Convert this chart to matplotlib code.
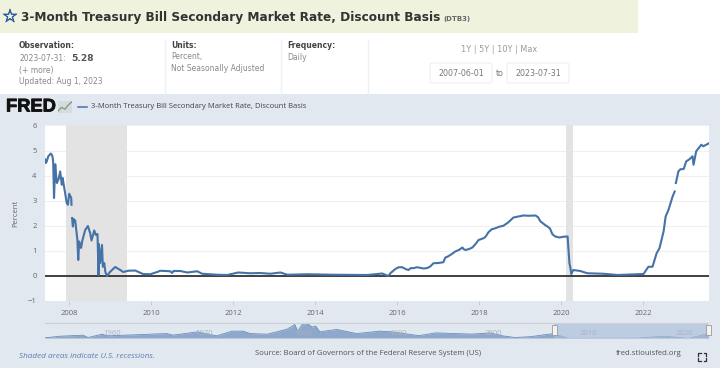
import numpy as np
import matplotlib
matplotlib.use('Agg')
import matplotlib.pyplot as plt
import matplotlib.patheffects as pe
from matplotlib.patches import Rectangle, FancyBboxPatch
from matplotlib.lines import Line2D

W, H = 720, 368

# main series, decimal year / percent (nan = gap in the data)
years = [2007.41, 2007.43, 2007.45, 2007.49, 2007.52, 2007.55, 2007.585, 2007.60, 2007.61, 2007.63, 2007.66, 2007.68, 2007.70, 2007.74,
         2007.78, 2007.82, 2007.84, 2007.90, 2007.94, 2007.97, 2008.00, 2008.05, 2008.056, 2008.06,
         2008.07, 2008.09, 2008.105, 2008.146, 2008.20, 2008.22, 2008.244, 2008.29, 2008.32, 2008.39, 2008.456, 2008.51, 2008.544,
         2008.61, 2008.65, 2008.69, 2008.707, 2008.715, 2008.724, 2008.756, 2008.80, 2008.82, 2008.854, 2008.88, 2008.92,
         2009.0, 2009.12, 2009.244, 2009.317, 2009.44, 2009.61, 2009.73, 2009.80, 2009.976, 2010.146, 2010.22, 2010.46, 2010.51, 2010.54,
         2010.71, 2010.88, 2011.12, 2011.24, 2011.61, 2011.85, 2012.12, 2012.40, 2012.66, 2012.90, 2013.15, 2013.32, 2013.80,
         2014.44, 2015.27, 2015.63, 2015.78, 2015.83, 2015.95, 2016.03, 2016.12, 2016.20, 2016.27, 2016.33, 2016.39, 2016.47, 2016.55,
         2016.64, 2016.73, 2016.80, 2016.88, 2017.0, 2017.12, 2017.17, 2017.22, 2017.32, 2017.41, 2017.50, 2017.585, 2017.62, 2017.66,
         2017.75, 2017.83, 2017.90, 2017.98, 2018.10, 2018.15, 2018.22, 2018.30, 2018.39, 2018.48, 2018.585, 2018.70, 2018.83, 2018.95,
         2019.07, 2019.2, 2019.37, 2019.43, 2019.49, 2019.54, 2019.60, 2019.66, 2019.72, 2019.78, 2019.85, 2019.95, 2020.05, 2020.15,
         2020.17, 2020.195, 2020.22, 2020.24, 2020.29, 2020.46, 2020.63,
         2021.02, 2021.37, 2022.0, 2022.12, 2022.22, 2022.32, 2022.39, 2022.46, 2022.49, 2022.54, 2022.61, 2022.71, 2022.76, 2022.775,
         2022.79, 2022.85, 2022.90, 2022.98, 2023.04, 2023.12, 2023.195, 2023.22, 2023.285, 2023.41, 2023.46, 2023.585]
values = [4.65, 4.50, 4.55, 4.77, 4.82, 4.88, 4.80, 4.68, 4.50, 3.10, 4.45, 4.00, 3.70, 3.85,
          4.16, 3.63, 3.90, 3.30, 2.90, 2.83, 3.27, 3.10, 2.83, np.nan,
          2.30, 1.96, 2.26, 2.20, 1.42, 0.62, 1.36, 1.10, 1.40, 1.82, 1.98, 1.70, 1.40,
          1.80, 1.62, 1.66, 0.60, 0.02, 1.26, 0.50, 1.22, 0.35, 0.50, 0.15, -0.02,
          0.15, 0.34, 0.22, 0.14, 0.19, 0.20, 0.11, 0.06, 0.05, 0.14, 0.19, 0.17, 0.10, 0.18,
          0.18, 0.12, 0.17, 0.07, 0.03, 0.02, 0.12, 0.09, 0.10, 0.07, 0.12, 0.03, 0.05,
          0.03, 0.02, 0.08, -0.02, 0.09, 0.26, 0.33, 0.33, 0.26, 0.22, 0.30, 0.29, 0.33, 0.31,
          0.28, 0.30, 0.36, 0.49, 0.50, 0.53, 0.72, 0.75, 0.85, 0.96, 1.02, 1.12, 1.05, 1.02,
          1.06, 1.12, 1.25, 1.42, 1.49, 1.55, 1.73, 1.85, 1.89, 1.95, 1.99, 2.12, 2.32, 2.36,
          2.40, 2.39, 2.40, 2.33, 2.16, 2.10, 2.02, 1.96, 1.88, 1.65, 1.56, 1.52, 1.55, 1.56,
          1.09, 0.49, 0.29, 0.06, 0.22, 0.18, 0.09,
          0.07, 0.02, 0.06, 0.35, 0.35, 0.89, 1.09, 1.56, 1.76, 2.36, 2.63, 3.16, 3.36, np.nan,
          3.70, 4.16, 4.25, 4.26, 4.56, 4.65, 4.77, 4.43, 4.97, 5.23, 5.17, 5.28]

# recessions
rec_start = [2007.92, 2020.10]
rec_end = [2009.42, 2020.27]

year_ticks = [2008, 2010, 2012, 2014, 2016, 2018, 2020, 2022]
pct_ticks = [-1, 0, 1, 2, 3, 4, 5, 6]

# overview strip at the bottom, 1954 onwards
mini_years = [1954.0, 1955.6, 1958.0, 1958.5, 1960.0, 1960.6, 1966.8, 1967.4, 1970.0, 1972.0, 1973.6, 1974.8, 1975.5, 1977.3, 1979.4,
              1980.2, 1980.5, 1981.0, 1981.5, 1982.0, 1982.4, 1982.8, 1984.6, 1986.7, 1989.1, 1990.4, 1993.2, 1995.0, 1998.8, 2000.7,
              2002.0, 2003.3, 2005.0, 2007.2, 2008.0, 2008.9, 2016.0, 2019.0, 2021.5, 2023.58]
mini_values = [0.7, 2.4, 3.5, 1.0, 4.5, 2.8, 5.2, 3.5, 7.0, 2.8, 7.7, 7.7, 5.2, 4.5, 9.8,
               14.7, 7.7, 15.0, 15.8, 12.0, 13.0, 7.0, 9.5, 5.2, 7.7, 7.0, 3.0, 5.9, 4.6, 5.9,
               2.8, 1.0, 2.0, 5.0, 3.0, 0.2, 0.3, 2.4, 0.05, 5.2]
mini_labels = ['1960', '1970', '1980', '1990', '2000', '2010', '2020']
mini_label_years = [1961, 1970.7, 1981.1, 1991, 2001, 2011, 2021.1]

BG = '#e1e8f0'
LINE = '#4572a7'
GREY = '#666666'
FONT = 'Open Sans'


def px_box(x0, y0, x1, y1):
    return [x0 / W, 1 - y1 / H, (x1 - x0) / W, (y1 - y0) / H]


def txt(x, y, s, **kw):
    kw.setdefault('family', FONT)
    kw.setdefault('va', 'center')
    return fig.text(x / W, 1 - y / H, s, **kw)


fig = plt.figure(figsize=(W / 100, H / 100), dpi=100, facecolor='white')

# page blocks
fig.add_artist(Rectangle((0, 1 - 33 / H), 638 / W, 33 / H, transform=fig.transFigure, color='#eff3dd', lw=0, zorder=-2))
fig.add_artist(Rectangle((0, 0), 1, 1 - 94 / H, transform=fig.transFigure, color=BG, lw=0, zorder=-2))
for xs in [164.5, 280.5, 367.5]:
    fig.add_artist(Line2D([xs / W, xs / W], [1 - 94 / H, 1 - 40 / H], transform=fig.transFigure, color='#edf2f7', lw=1, zorder=-1))

# header
star = txt(10, 17, '\u2606', family='DejaVu Sans', fontsize=13, color='#2f5f9e', ha='center')
star.set_path_effects([pe.withStroke(linewidth=0.5, foreground='#2f5f9e')])
txt(21, 17, '3-Month Treasury Bill Secondary Market Rate, Discount Basis', family='DejaVu Sans', fontsize=8.7,
    fontweight='bold', color='#333333')
txt(443, 18.5, '(DTB3)', family='DejaVu Sans', fontsize=5, fontweight='bold', color='#666666')

txt(19, 45, 'Observation:', family='DejaVu Sans', fontsize=5.5, fontweight='bold', color='#444444')
txt(19, 58.5, '2023-07-31:', family='DejaVu Sans', fontsize=5.5, color='#888888')
txt(71, 58.5, '5.28', family='DejaVu Sans', fontsize=6.6, fontweight='bold', color='#555555')
txt(19, 70.5, '(+ more)', family='DejaVu Sans', fontsize=5.5, color='#888888')
txt(19, 82, 'Updated: Aug 1, 2023', family='DejaVu Sans', fontsize=5.5, color='#888888')
txt(171, 45, 'Units:', family='DejaVu Sans', fontsize=5.5, fontweight='bold', color='#444444')
txt(171, 57, 'Percent,', family='DejaVu Sans', fontsize=5.5, color='#888888')
txt(171, 68.5, 'Not Seasonally Adjusted', family='DejaVu Sans', fontsize=5.5, color='#888888')
txt(287, 45, 'Frequency:', family='DejaVu Sans', fontsize=5.5, fontweight='bold', color='#444444')
txt(287, 57, 'Daily', family='DejaVu Sans', fontsize=5.5, color='#888888')

txt(499, 50, '1Y | 5Y | 10Y | Max', family='DejaVu Sans', fontsize=5.9, color='#999999', ha='center')
for x0, x1, s in [(430, 492, '2007-06-01'), (507, 569, '2023-07-31')]:
    fig.add_artist(FancyBboxPatch((x0 / W, 1 - 83 / H), (x1 - x0) / W, 20 / H, transform=fig.transFigure,
                                  boxstyle='round,pad=0,rounding_size=0.005', fc='white', ec='#eeeeee', lw=0.8, zorder=-1))
    txt((x0 + x1) / 2, 73, s, family='DejaVu Sans', fontsize=5.7, color='#777777', ha='center')
txt(499.5, 73, 'to', family='DejaVu Sans', fontsize=5.7, color='#777777', ha='center')

# logo and legend
fred = txt(6, 107, 'FRED', family='Liberation Sans', fontsize=13.2, fontweight='bold', color='#111111')
fred.set_path_effects([pe.withStroke(linewidth=0.6, foreground='#111111')])
logo = fig.add_axes(px_box(58, 101, 72, 113), facecolor='#d5dbe0')
logo.plot([0, 1, 2, 3, 4], [0.5, 1.5, 1.0, 2.2, 3], color='#7d9a70', lw=0.9)
logo.set_xlim(0, 4)
logo.set_ylim(0, 3.2)
logo.set_xticks([])
logo.set_yticks([])
for s in logo.spines.values():
    s.set_visible(False)
fig.add_artist(Line2D([78 / W, 87 / W], [1 - 106.5 / H] * 2, transform=fig.transFigure, color=LINE, lw=1.1))
txt(91, 107, '3-Month Treasury Bill Secondary Market Rate, Discount Basis', fontsize=5.5, color='#444444')

# main chart
ax = fig.add_axes(px_box(45, 125.5, 708.5, 300.5), facecolor='white')
for a, b in zip(rec_start, rec_end):
    ax.axvspan(a, b, color='#e3e3e3', lw=0, zorder=1)
ax.axhline(0, color='#222222', lw=1.2, zorder=3)
ax.plot(years, values, color=LINE, lw=1.5, zorder=4, solid_joinstyle='round')
ax.set_xlim(2007.41, 2023.585)
ax.set_ylim(-1, 6)
ax.set_xticks(year_ticks)
ax.set_yticks(pct_ticks)
ax.grid(axis='y', color='#f0f0f0', lw=0.8, zorder=0)
ax.set_axisbelow(True)
for s in ax.spines.values():
    s.set_visible(False)
ax.tick_params(axis='x', length=3, width=0.7, color='#cccccc', labelsize=5.5, labelcolor=GREY, pad=4)
ax.tick_params(axis='y', length=0, labelsize=5.5, labelcolor=GREY, pad=6)
for t in ax.get_xticklabels() + ax.get_yticklabels():
    t.set_family(FONT)
ax.set_ylabel('Percent', fontsize=5.5, color=GREY, family=FONT, labelpad=6)

# overview strip
mini = fig.add_axes(px_box(45, 322.5, 708.5, 338.5), facecolor='none')
mini.fill_between(mini_years, mini_values, 0, color='#8ea8cb', lw=0, zorder=2)
mini.plot(mini_years, mini_values, color='#6a8dbb', lw=0.6, zorder=3)
mini.axvspan(2007.4, 2023.58, color='#a9bedd', alpha=0.65, lw=0, zorder=4)
mini.set_xlim(1954, 2023.6)
mini.set_ylim(0, 16.8)
mini.axis('off')
for y, s in zip(mini_label_years, mini_labels):
    mini.text(y, 5.0, s, fontsize=5.5, color='#aab2bd', ha='center', va='center', family=FONT, zorder=5)
fig.add_artist(Line2D([45 / W, 708 / W], [1 - 322.5 / H] * 2, transform=fig.transFigure, color='#ccd0d4', lw=0.8))
fig.add_artist(Line2D([45 / W, 708 / W], [1 - 338 / H] * 2, transform=fig.transFigure, color='#c5cdd8', lw=0.6))
for xh in [554, 708]:
    fig.add_artist(Rectangle(((xh - 2.5) / W, 1 - 335 / H), 5 / W, 10 / H, transform=fig.transFigure,
                             fc='#f2f2f2', ec='#999999', lw=0.6, zorder=6))

# footer
txt(19, 356.5, 'Shaded areas indicate U.S. recessions.', fontsize=5.85, style='italic', color='#5b7fae')
txt(255, 353.5, 'Source: Board of Governors of the Federal Reserve System (US)', fontsize=5.55, color='#555555')
txt(616, 353.5, 'fred.stlouisfed.org', fontsize=5.55, color='#555555')
for cx, cy, dx, dy in [(698, 353, 1, 1), (706, 353, -1, 1), (698, 360.5, 1, -1), (706, 360.5, -1, -1)]:
    fig.add_artist(Line2D([(cx + 2.5 * dx) / W, cx / W, cx / W], [1 - cy / H, 1 - cy / H, 1 - (cy + 2.5 * dy) / H],
                          transform=fig.transFigure, color='#333333', lw=0.9))

fig.savefig('out.png', dpi=100)
